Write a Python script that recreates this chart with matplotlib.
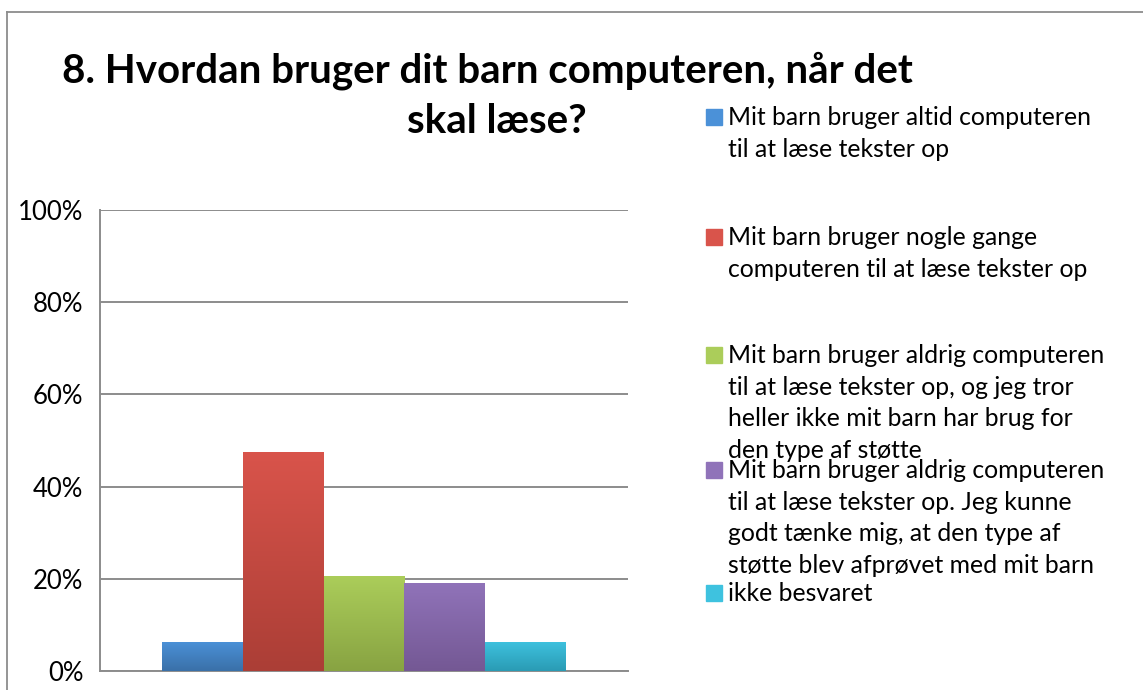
import numpy as np
import matplotlib
matplotlib.use('Agg')
import matplotlib.pyplot as plt
from matplotlib.lines import Line2D
from matplotlib.patches import Rectangle
from matplotlib.colors import LinearSegmentedColormap

plt.rcParams['font.family'] = ['Lato', 'DejaVu Sans']

# Data
labels = [
    'Mit barn bruger altid computeren\ntil at læse tekster op',
    'Mit barn bruger nogle gange\ncomputeren til at læse tekster op',
    'Mit barn bruger aldrig computeren\ntil at læse tekster op, og jeg tror\nheller ikke mit barn har brug for\nden type af støtte',
    'Mit barn bruger aldrig computeren\ntil at læse tekster op. Jeg kunne\ngodt tænke mig, at den type af\nstøtte blev afprøvet med mit barn',
    'ikke besvaret',
]
values = [6.3, 47.6, 20.6, 19.0, 6.3]
top_colors = ['#4b91d8', '#d9544b', '#abcd5a', '#9073b9', '#3ec2df']
bottom_colors = ['#3a70a8', '#ab3e36', '#88a342', '#745894', '#2a9bb4']
yticks = [0, 20, 40, 60, 80, 100]
ytick_labels = ['0%', '20%', '40%', '60%', '80%', '100%']
title_lines = ['8. Hvordan bruger dit barn computeren, når det', 'skal læse?']

W, H = 1143, 690
fig = plt.figure(figsize=(W / 100, H / 100), dpi=100)
ax = fig.add_axes([0.0875, 0.0275, 0.4619, 0.6682])

x = np.arange(len(values))
bars = ax.bar(x, values, width=1.0, color=top_colors, zorder=2)

# vertical gradient on each bar
grad = np.linspace(1, 0, 256).reshape(-1, 1)
for b, c_top, c_bot in zip(bars, top_colors, bottom_colors):
    cmap = LinearSegmentedColormap.from_list('g', [c_bot, c_top])
    x0, y0, w, h = b.get_x(), b.get_y(), b.get_width(), b.get_height()
    im = ax.imshow(grad, cmap=cmap, extent=[x0, x0 + w, y0, y0 + h],
                   aspect='auto', zorder=3, vmin=0, vmax=1)
    im.set_clip_path(b)

ax.set_xlim(-1.27, 5.27)
ax.set_ylim(0, 100)
ax.set_yticks(yticks)
ax.set_yticklabels(ytick_labels, fontsize=18.5)
ax.set_xticks([])
ax.tick_params(axis='y', length=0, pad=12)
ax.yaxis.grid(True, color='#8c8c8c', linewidth=1.4, zorder=0)
for s in ['top', 'right']:
    ax.spines[s].set_visible(False)
for s in ['left', 'bottom']:
    ax.spines[s].set_color('#8c8c8c')
    ax.spines[s].set_linewidth(1.4)

# title, two lines centred a little differently as in the original
fig.text(487 / W, 1 - 83 / H, title_lines[0], ha='center', va='baseline',
         fontsize=29, fontweight='bold')
fig.text(497 / W, 1 - 133 / H, title_lines[1], ha='center', va='baseline',
         fontsize=29, fontweight='bold')

# legend drawn by hand
entry_y = [117, 237, 355, 470, 593]
for lab, c_top, yy in zip(labels, top_colors, entry_y):
    fy = 1 - yy / H
    fig.patches.append(Rectangle((706 / W, fy - 8 / H), 16 / W, 16 / H,
                                 transform=fig.transFigure, color=c_top))
    fig.text(728 / W, fy + 11 / H, lab, ha='left', va='top', fontsize=17.8,
             linespacing=1.46)

# partial frame of the chart area
fig.add_artist(Line2D([7 / W, 1], [1 - 12 / H, 1 - 12 / H], color='#8c8c8c',
                      lw=1.3, transform=fig.transFigure))
fig.add_artist(Line2D([7 / W, 7 / W], [0, 1 - 12 / H], color='#8c8c8c',
                      lw=1.3, transform=fig.transFigure))

fig.savefig('out.png', dpi=100)
